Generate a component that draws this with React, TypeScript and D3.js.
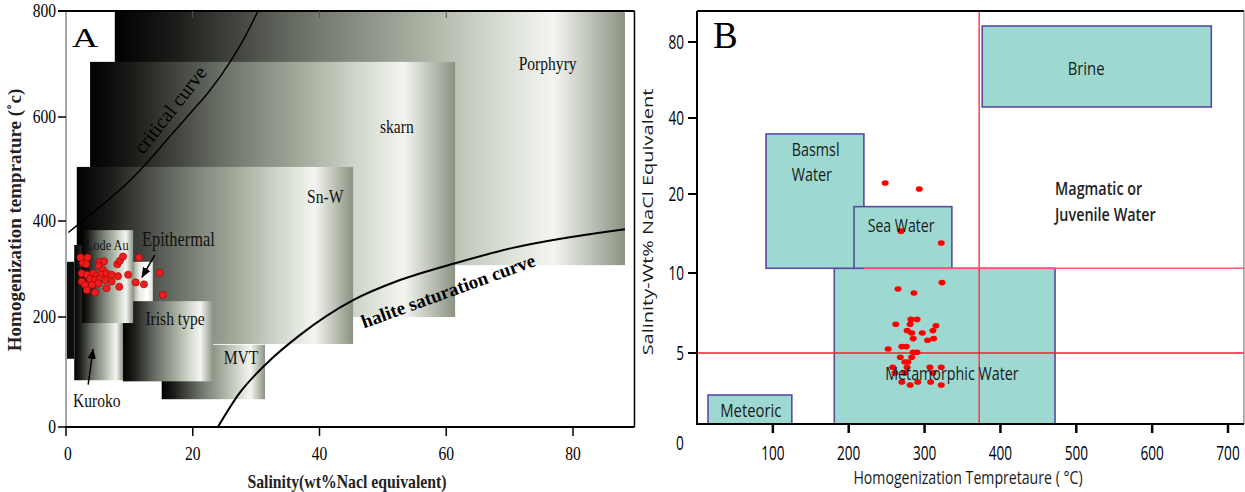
import React from 'react';
import * as d3 from 'd3';

// ---------- panel A : deposit fields (salinity wt% vs Th °C) ----------
const fieldNamesA = ['Porphyry', 'skarn', 'Sn-W', 'MVT', 'Irish type', 'strip', 'Kuroko', 'Lode Au', 'Epithermal'];
const fieldSalLoA = [7.7, 3.8, 1.7, 15.1, 9.0, 0.15, 1.3, 2.5, 10.6];
const fieldSalHiA = [88.2, 61.4, 45.3, 31.4, 23.2, 1.26, 9.0, 10.6, 13.7];
const fieldThLoA = [308, 200, 151, 50.5, 83, 124, 85, 189, 233];
const fieldThHiA = [800, 704, 504, 149.5, 233, 315, 350, 381, 315];

const labelTextA = ['Porphyry', 'skarn', 'Sn-W', 'Lode Au', 'Epithermal', 'Irish type', 'MVT', 'Kuroko'];
const labelSalA = [76, 52.2, 40.9, 6.5, 12.0, 17.2, 27.6, 1.1];
const labelThA = [689, 569, 435, 340, 348, 186, 115, 36];

const criticalSal = [0.37, 5.4, 9.6, 12.7, 16.4, 19.6, 22.7, 25.9, 28.5, 30.3];
const criticalTh = [376, 428, 472, 511, 563, 607, 650, 704, 757, 800];

const haliteSal = [23.97, 27.4, 31.7, 36.9, 45.3, 52.7, 61.4, 70.5, 88.2];
const haliteTh = [0, 62, 116, 167, 235, 277, 312, 344, 383];

const inclSalA = [2.3, 3.4, 2.7, 3.2, 5.3, 6.0, 5.2, 8.1, 8.5, 9.0, 11.5, 5.8, 2.5, 3.3, 4.3, 4.8, 5.6, 6.4, 7.2, 8.2, 3.8, 4.6, 5.3, 6.2, 7.2, 2.5, 3.0, 4.1, 5.1, 3.3, 4.6, 6.4, 8.4, 11.0, 12.3, 14.8, 15.3, 9.8];
const inclThA = [324, 324, 312, 310, 315, 316, 306, 310, 317, 326, 324, 298, 291, 288, 291, 285, 288, 291, 288, 285, 279, 277, 279, 277, 274, 274, 267, 267, 270, 256, 251, 260, 263, 272, 268, 292, 246, 288];

const ticksSalA = [0, 20, 40, 60, 80];
const ticksThA = [0, 200, 400, 600, 800];

// ---------- panel B : water types (Th °C vs salinity) ----------
const waterNames = ['Metamorphic Water', 'Basmsl Water', 'Sea Water', 'Brine', 'Meteoric'];
const waterThLo = [181, 91, 207, 376, 14.5];
const waterThHi = [472, 220, 336, 678, 125];
const waterSalLo = [0, 10.6, 10.6, 45.8, 0];
const waterSalHi = [10.6, 35.8, 18.4, 88.4, 2.04];

const inclThB = [248, 293, 269, 322, 323, 265, 286, 262, 282, 290, 281, 277, 283, 297, 315, 311, 285, 304, 312, 270, 276, 285, 290, 252, 268, 283, 274, 278, 258, 277, 307, 322, 261, 274, 311, 270, 281, 291, 308, 322];
const inclSalB = [22.9, 21.3, 15.3, 13.8, 9.4, 9.0, 8.75, 6.8, 7.1, 7.1, 6.8, 6.4, 6.25, 6.25, 6.7, 6.4, 5.9, 5.8, 5.9, 5.4, 5.4, 5.05, 5.05, 5.25, 4.7, 4.7, 4.37, 4.37, 4.0, 4.0, 4.0, 4.0, 3.6, 3.6, 3.6, 2.96, 2.75, 2.96, 2.96, 2.75];

const redThLine = 372;
const redSalLines = [5, 10.6];
const redSalStart = [0, 220];

const ticksThB = [100, 200, 300, 400, 500, 600, 700];
const ticksSalB = [5, 10, 20, 40, 80];

const serif = "'Liberation Serif', 'Times New Roman', serif";
const sans = "'Open Sans', 'Noto Sans', sans-serif";

function SText({ x, y, sx = 1, rot = 0, children, ...rest }: any) {
  return (
    <text transform={`translate(${x},${y}) scale(${sx},1)${rot ? ` rotate(${rot})` : ''}`} {...rest}>
      {children}
    </text>
  );
}

function App() {
  const xA = d3.scaleLinear().domain([0, 80]).range([66, 573]);
  const yA = d3.scaleLinear().domain([0, 200, 400, 600, 800]).range([427, 317, 221, 117, 11]);
  const salMaxA = 89.7;

  const xB = d3.scaleLinear().domain([0, 700]).range([697, 1228]);
  const yB = d3.scaleLinear().domain([0, 5, 10, 20, 40, 80]).range([424, 353, 273, 194, 118, 42]);
  const thMaxB = 721;
  const salMaxB = 96.3;

  const lineA = d3
    .line<number[]>()
    .curve(d3.curveMonotoneX)
    .x((d) => d[0])
    .y((d) => d[1]);
  const critPath = lineA(criticalSal.map((s, i) => [xA(s), yA(criticalTh[i])]));
  const halPath = lineA(haliteSal.map((s, i) => [xA(s), yA(haliteTh[i])]));

  const fieldFill = (name: string) =>
    name === 'Epithermal' ? 'url(#gEpi)' : name === 'strip' ? '#0c0c0c' : 'url(#gField)';

  return (
    <svg width={1245} height={492} style={{ position: 'absolute', left: 0, top: 0, background: '#fff' }}>
      <defs>
        <linearGradient id="gField" x1="0" x2="1" y1="0" y2="0">
          <stop offset="0" stopColor="#000000" />
          <stop offset="0.12" stopColor="#1c1d1a" />
          <stop offset="0.36" stopColor="#6a6f66" />
          <stop offset="0.6" stopColor="#a9b1a2" />
          <stop offset="0.75" stopColor="#d5dbd0" />
          <stop offset="0.86" stopColor="#f4f5f1" />
          <stop offset="1" stopColor="#8b9382" />
        </linearGradient>
        <linearGradient id="gEpi" x1="0" x2="1" y1="0" y2="0">
          <stop offset="0" stopColor="#9da394" />
          <stop offset="0.3" stopColor="#e6e8e2" />
          <stop offset="0.7" stopColor="#ffffff" />
          <stop offset="1" stopColor="#e0e3dc" />
        </linearGradient>
        <marker id="arr" viewBox="0 0 10 10" refX="9" refY="5" markerWidth="7" markerHeight="7" orient="auto">
          <path d="M0,1 L10,5 L0,9 z" fill="#000" />
        </marker>
      </defs>

      {/* ---------------- Panel A ---------------- */}
      <g>
        {fieldNamesA.map((n, i) => (
          <rect
            key={n}
            x={xA(fieldSalLoA[i])}
            y={yA(fieldThHiA[i])}
            width={xA(fieldSalHiA[i]) - xA(fieldSalLoA[i])}
            height={yA(fieldThLoA[i]) - yA(fieldThHiA[i])}
            fill={fieldFill(n)}
          />
        ))}

        <path d={critPath || ''} fill="none" stroke="#000" strokeWidth={1.5} />
        <path d={halPath || ''} fill="none" stroke="#000" strokeWidth={2} />

        {/* frame */}
        <line x1={xA(0)} x2={xA(0)} y1={yA(800)} y2={yA(0)} stroke="#8a8a8a" strokeWidth={1.5} />
        <line x1={58} x2={xA(salMaxA)} y1={yA(800)} y2={yA(800)} stroke="#000" strokeWidth={2} />
        <line x1={xA(salMaxA)} x2={xA(salMaxA)} y1={yA(800)} y2={yA(0)} stroke="#000" strokeWidth={1.5} />
        <line x1={xA(0)} x2={xA(salMaxA)} y1={yA(0)} y2={yA(0)} stroke="#000" strokeWidth={2} />

        {ticksThA.map((t) => (
          <g key={'ya' + t}>
            <line x1={58} x2={xA(0)} y1={yA(t)} y2={yA(t)} stroke="#000" strokeWidth={1.5} />
            <SText x={56} y={yA(t) + 6} sx={0.82} textAnchor="end" fontFamily={serif} fontSize={19}>
              {t}
            </SText>
          </g>
        ))}
        {ticksSalA.map((t) => (
          <g key={'xa' + t}>
            <line x1={xA(t)} x2={xA(t)} y1={yA(0)} y2={yA(0) + 9} stroke="#000" strokeWidth={1.5} />
            {t > 0 && t < 80 && (
              <line x1={xA(t)} x2={xA(t)} y1={yA(800)} y2={yA(800) + 7} stroke="#555" strokeWidth={1} />
            )}
            <SText x={xA(t) + (t === 0 ? 2 : 0)} y={460} sx={0.82} textAnchor="middle" fontFamily={serif} fontSize={19}>
              {t}
            </SText>
          </g>
        ))}

        {/* inclusions */}
        {inclSalA.map((s, i) => (
          <circle key={'pa' + i} cx={xA(s)} cy={yA(inclThA[i])} r={3.6} fill="#ee1c1c" stroke="#a00000" strokeWidth={0.6} />
        ))}

        {/* annotations */}
        <line x1={xA(14.0)} y1={yA(329)} x2={xA(12.0)} y2={yA(283)} stroke="#000" strokeWidth={1.5} markerEnd="url(#arr)" />
        <line x1={xA(3.5)} y1={yA(77)} x2={xA(4.26)} y2={yA(141)} stroke="#000" strokeWidth={1.5} markerEnd="url(#arr)" />

        {labelTextA.map((t, i) => {
          const left = t === 'Epithermal' || t === 'Kuroko';
          const fs = t === 'Lode Au' ? 15 : t === 'Epithermal' ? 20 : 19;
          return (
            <SText
              key={t}
              x={xA(labelSalA[i])}
              y={yA(labelThA[i])}
              sx={0.82}
              textAnchor={left ? 'start' : 'middle'}
              fontFamily={serif}
              fontSize={fs}
              fill="#111"
            >
              {t}
            </SText>
          );
        })}
        <SText x={xA(16.7)} y={yA(611)} rot={-52} textAnchor="middle" dominantBaseline="middle" fontFamily={serif} fontSize={20}>
          critical curve
        </SText>
        <SText
          x={xA(60.4)}
          y={yA(250)}
          rot={-20}
          textAnchor="middle"
          dominantBaseline="middle"
          fontFamily={serif}
          fontSize={19}
          fontWeight="bold"
        >
          halite saturation curve
        </SText>
        <SText x={xA(0.95)} y={yA(732)} sx={1.3} fontFamily={serif} fontSize={28}>
          A
        </SText>

        <SText x={21} y={220} rot={-90} textAnchor="middle" fontFamily={serif} fontSize={19} fontWeight="bold" fill="#222">
          Homogenization temprature (˚c)
        </SText>
        <SText x={347} y={488} sx={0.83} textAnchor="middle" fontFamily={serif} fontSize={19} fontWeight="bold" fill="#222">
          Salinity(wt%Nacl equivalent)
        </SText>
      </g>

      {/* ---------------- Panel B ---------------- */}
      <g>
        {waterNames.map((n, i) => (
          <rect
            key={n}
            x={xB(waterThLo[i])}
            y={yB(waterSalHi[i])}
            width={xB(waterThHi[i]) - xB(waterThLo[i])}
            height={yB(waterSalLo[i]) - yB(waterSalHi[i])}
            fill="#9dd9d1"
            stroke="#5a4aa0"
            strokeWidth={1.6}
          />
        ))}

        <line x1={xB(redThLine)} x2={xB(redThLine)} y1={yB(salMaxB)} y2={yB(0)} stroke="#ff2a3c" strokeWidth={1.6} opacity={0.85} />
        {redSalLines.map((s, i) => (
          <line
            key={'rl' + s}
            x1={xB(redSalStart[i])}
            x2={xB(thMaxB)}
            y1={yB(s)}
            y2={yB(s)}
            stroke={i === 0 ? '#ff1a2e' : '#ff5a6e'}
            strokeWidth={1.6}
          />
        ))}

        {/* frame */}
        <line x1={xB(0)} x2={xB(thMaxB)} y1={yB(salMaxB)} y2={yB(salMaxB)} stroke="#000" strokeWidth={2} />
        <line x1={xB(thMaxB)} x2={xB(thMaxB)} y1={yB(salMaxB)} y2={yB(0)} stroke="#666" strokeWidth={1} />
        <line x1={xB(0)} x2={xB(0)} y1={yB(salMaxB)} y2={yB(0) + 1} stroke="#000" strokeWidth={2} />
        <line x1={xB(0)} x2={xB(thMaxB)} y1={yB(0)} y2={yB(0)} stroke="#000" strokeWidth={2} />

        {ticksSalB.map((t) => (
          <g key={'yb' + t}>
            <line x1={xB(0) - 9} x2={xB(0)} y1={yB(t)} y2={yB(t)} stroke="#000" strokeWidth={2} />
            <SText x={684} y={yB(t) + 7} sx={0.68} textAnchor="end" fontFamily={sans} fontSize={20}>
              {t}
            </SText>
          </g>
        ))}
        {ticksThB.map((t) => (
          <g key={'xb' + t}>
            <line x1={xB(t)} x2={xB(t)} y1={yB(0)} y2={yB(0) + 9} stroke="#000" strokeWidth={2.5} />
            <SText x={xB(t)} y={460} sx={0.68} textAnchor="middle" fontFamily={sans} fontSize={20}>
              {t}
            </SText>
          </g>
        ))}
        <SText x={680} y={450} sx={0.68} textAnchor="middle" fontFamily={sans} fontSize={20}>
          0
        </SText>

        {inclThB.map((t, i) => (
          <ellipse key={'pb' + i} cx={xB(t)} cy={yB(inclSalB[i])} rx={3.5} ry={2.8} fill="#ff0000" />
        ))}

        <SText x={xB(125)} y={yB(30)} sx={0.77} fontFamily={sans} fontSize={18.6} fill="#1a1a1a">Basmsl</SText>
        <SText x={xB(125)} y={yB(23.4)} sx={0.77} fontFamily={sans} fontSize={18.6} fill="#1a1a1a">Water</SText>
        <SText x={xB(269)} y={yB(15.2)} sx={0.76} textAnchor="middle" fontFamily={sans} fontSize={18.6} fill="#1a1a1a">Sea Water</SText>
        <SText x={xB(336)} y={yB(3.1)} sx={0.77} textAnchor="middle" fontFamily={sans} fontSize={18.6} fill="#1a1a1a">Metamorphic Water</SText>
        <SText x={xB(513)} y={yB(62.6)} sx={0.8} textAnchor="middle" fontFamily={sans} fontSize={18.6} fill="#1a1a1a">Brine</SText>
        <SText x={xB(71)} y={yB(0.49)} sx={0.8} textAnchor="middle" fontFamily={sans} fontSize={18.6} fill="#1a1a1a">Meteoric</SText>
        <SText x={xB(472)} y={yB(19.9)} sx={0.8} fontFamily={sans} fontSize={18} fontWeight={600} fill="#222">Magmatic or</SText>
        <SText x={xB(472)} y={yB(16.6)} sx={0.8} fontFamily={sans} fontSize={18} fontWeight={600} fill="#222">Juvenile Water</SText>
        <SText x={xB(21)} y={yB(76.8)} fontFamily={serif} fontSize={37}>B</SText>

        <SText x={653} y={222} sx={0.76} rot={-90} textAnchor="middle" fontFamily={sans} fontSize={20} fill="#1a1a1a">
          Salinity-Wt% NaCl Equivalent
        </SText>
        <SText x={968} y={484} sx={0.76} textAnchor="middle" fontFamily={sans} fontSize={18.6} fill="#1a1a1a">
          Homogenization Tempretaure ( °C)
        </SText>
      </g>
    </svg>
  );
}

export default App;
